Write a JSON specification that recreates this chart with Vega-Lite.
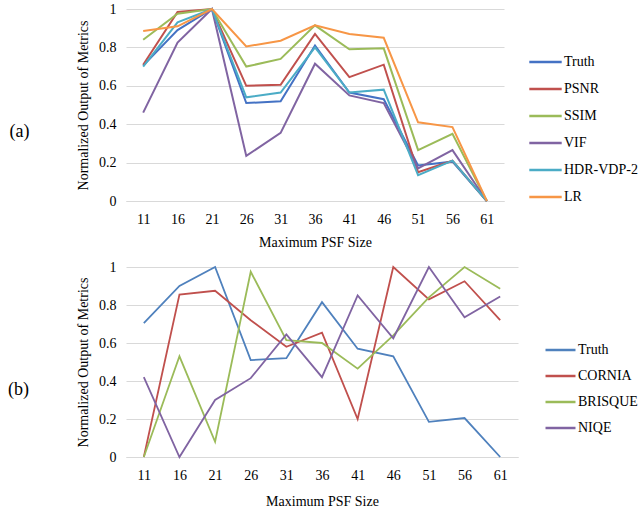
{
  "$schema": "https://vega.github.io/schema/vega-lite/v6.json",
  "padding": {"left": 8, "top": 2, "right": 0, "bottom": 0},
  "background": "white",
  "datasets": {
    "a": [
      {"size": 11, "Truth": 0.705, "PSNR": 0.71, "SSIM": 0.84, "VIF": 0.46, "HDR-VDP-2": 0.70, "LR": 0.885},
      {"size": 16, "Truth": 0.89, "PSNR": 0.985, "SSIM": 0.975, "VIF": 0.825, "HDR-VDP-2": 0.93, "LR": 0.91},
      {"size": 21, "Truth": 1.0, "PSNR": 1.0, "SSIM": 1.0, "VIF": 1.0, "HDR-VDP-2": 1.0, "LR": 1.0},
      {"size": 26, "Truth": 0.51, "PSNR": 0.60, "SSIM": 0.70, "VIF": 0.235, "HDR-VDP-2": 0.54, "LR": 0.805},
      {"size": 31, "Truth": 0.52, "PSNR": 0.605, "SSIM": 0.74, "VIF": 0.355, "HDR-VDP-2": 0.565, "LR": 0.835},
      {"size": 36, "Truth": 0.81, "PSNR": 0.87, "SSIM": 0.915, "VIF": 0.715, "HDR-VDP-2": 0.80, "LR": 0.915},
      {"size": 41, "Truth": 0.565, "PSNR": 0.645, "SSIM": 0.79, "VIF": 0.55, "HDR-VDP-2": 0.565, "LR": 0.87},
      {"size": 46, "Truth": 0.53, "PSNR": 0.71, "SSIM": 0.795, "VIF": 0.51, "HDR-VDP-2": 0.58, "LR": 0.85},
      {"size": 51, "Truth": 0.185, "PSNR": 0.15, "SSIM": 0.265, "VIF": 0.17, "HDR-VDP-2": 0.135, "LR": 0.41},
      {"size": 56, "Truth": 0.205, "PSNR": 0.21, "SSIM": 0.35, "VIF": 0.265, "HDR-VDP-2": 0.21, "LR": 0.385},
      {"size": 61, "Truth": 0.0, "PSNR": 0.0, "SSIM": 0.0, "VIF": 0.0, "HDR-VDP-2": 0.0, "LR": 0.0}
    ],
    "b": [
      {"size": 11, "Truth": 0.705, "CORNIA": 0.0, "BRISQUE": 0.0, "NIQE": 0.42},
      {"size": 16, "Truth": 0.90, "CORNIA": 0.855, "BRISQUE": 0.53, "NIQE": 0.0},
      {"size": 21, "Truth": 1.0, "CORNIA": 0.875, "BRISQUE": 0.08, "NIQE": 0.30},
      {"size": 26, "Truth": 0.51, "CORNIA": 0.72, "BRISQUE": 0.975, "NIQE": 0.415},
      {"size": 31, "Truth": 0.52, "CORNIA": 0.58, "BRISQUE": 0.615, "NIQE": 0.645},
      {"size": 36, "Truth": 0.815, "CORNIA": 0.655, "BRISQUE": 0.60, "NIQE": 0.42},
      {"size": 41, "Truth": 0.57, "CORNIA": 0.20, "BRISQUE": 0.465, "NIQE": 0.85},
      {"size": 46, "Truth": 0.53, "CORNIA": 1.0, "BRISQUE": 0.64, "NIQE": 0.625},
      {"size": 51, "Truth": 0.185, "CORNIA": 0.83, "BRISQUE": 0.84, "NIQE": 1.0},
      {"size": 56, "Truth": 0.205, "CORNIA": 0.925, "BRISQUE": 1.0, "NIQE": 0.735},
      {"size": 61, "Truth": 0.0, "CORNIA": 0.72, "BRISQUE": 0.885, "NIQE": 0.845}
    ]
  },
  "config": {
    "font": "Liberation Serif",
    "view": {"stroke": null},
    "concat": {"spacing": 11},
    "axis": {
      "labelFont": "Liberation Serif",
      "titleFont": "Liberation Serif",
      "labelFontSize": 14,
      "titleFontSize": 14,
      "labelColor": "#000",
      "titleColor": "#000",
      "titleFontWeight": "normal",
      "ticks": false,
      "gridColor": "#d9d9d9",
      "domain": false
    },
    "legend": {
      "labelFont": "Liberation Serif",
      "labelFontSize": 14,
      "labelColor": "#000",
      "symbolType": "stroke",
      "symbolStrokeWidth": 2.5,
      "labelOffset": 1,
      "symbolSize": 1050,
      "clipHeight": 14
    },
    "title": {"font": "Liberation Serif", "fontSize": 18, "fontWeight": "normal", "color": "#000"}
  },
  "resolve": {"scale": {"color": "independent"}, "legend": {"color": "independent"}},
  "vconcat": [
    {
      "width": 378,
      "height": 192,
      "title": {"text": "(a)", "orient": "left", "angle": 0, "anchor": "middle", "frame": "group", "offset": 37, "dy": 18},
      "data": {"name": "a"},
      "transform": [{"fold": ["Truth", "PSNR", "SSIM", "VIF", "HDR-VDP-2", "LR"], "as": ["metric", "value"]}],
      "mark": {"type": "line", "strokeWidth": 2},
      "encoding": {
        "x": {"field": "size", "type": "ordinal", "scale": {"type": "point", "padding": 0.5},
              "axis": {"title": "Maximum PSF Size", "labelAngle": 0, "grid": false, "domain": true, "domainColor": "#d9d9d9", "labelPadding": 11, "titlePadding": 9}},
        "y": {"field": "value", "type": "quantitative", "scale": {"domain": [0, 1], "nice": false},
              "axis": {"title": "Normalized Output of Metrics", "values": [0, 0.2, 0.4, 0.6, 0.8, 1], "format": ".1~f", "labelPadding": 10, "titlePadding": 8}},
        "color": {"field": "metric", "type": "nominal",
                  "scale": {"domain": ["Truth", "PSNR", "SSIM", "VIF", "HDR-VDP-2", "LR"],
                            "range": ["#4472C4", "#C0504D", "#9BBB59", "#8064A2", "#4BACC6", "#F79646"]},
                  "legend": {"title": null, "orient": "none", "legendX": 402, "legendY": 46, "rowPadding": 13}}
      }
    },
    {
      "width": 392,
      "height": 190,
      "title": {"text": "(b)", "orient": "left", "angle": 0, "anchor": "middle", "frame": "group", "offset": 37, "dy": 19},
      "data": {"name": "b"},
      "transform": [{"fold": ["Truth", "CORNIA", "BRISQUE", "NIQE"], "as": ["metric", "value"]}],
      "mark": {"type": "line", "strokeWidth": 1.8},
      "encoding": {
        "x": {"field": "size", "type": "ordinal", "scale": {"type": "point", "padding": 0.5},
              "axis": {"title": "Maximum PSF Size", "labelAngle": 0, "grid": false, "domain": true, "domainColor": "#d9d9d9", "labelPadding": 11, "titlePadding": 12}},
        "y": {"field": "value", "type": "quantitative", "scale": {"domain": [0, 1], "nice": false},
              "axis": {"title": "Normalized Output of Metrics", "values": [0, 0.2, 0.4, 0.6, 0.8, 1], "format": ".1~f", "labelPadding": 10, "titlePadding": 8}},
        "color": {"field": "metric", "type": "nominal",
                  "scale": {"domain": ["Truth", "CORNIA", "BRISQUE", "NIQE"],
                            "range": ["#4F81BD", "#C0504D", "#9BBB59", "#8064A2"]},
                  "legend": {"title": null, "orient": "none", "legendX": 418, "legendY": 76, "rowPadding": 12, "symbolSize": 900}}
      }
    }
  ]
}
